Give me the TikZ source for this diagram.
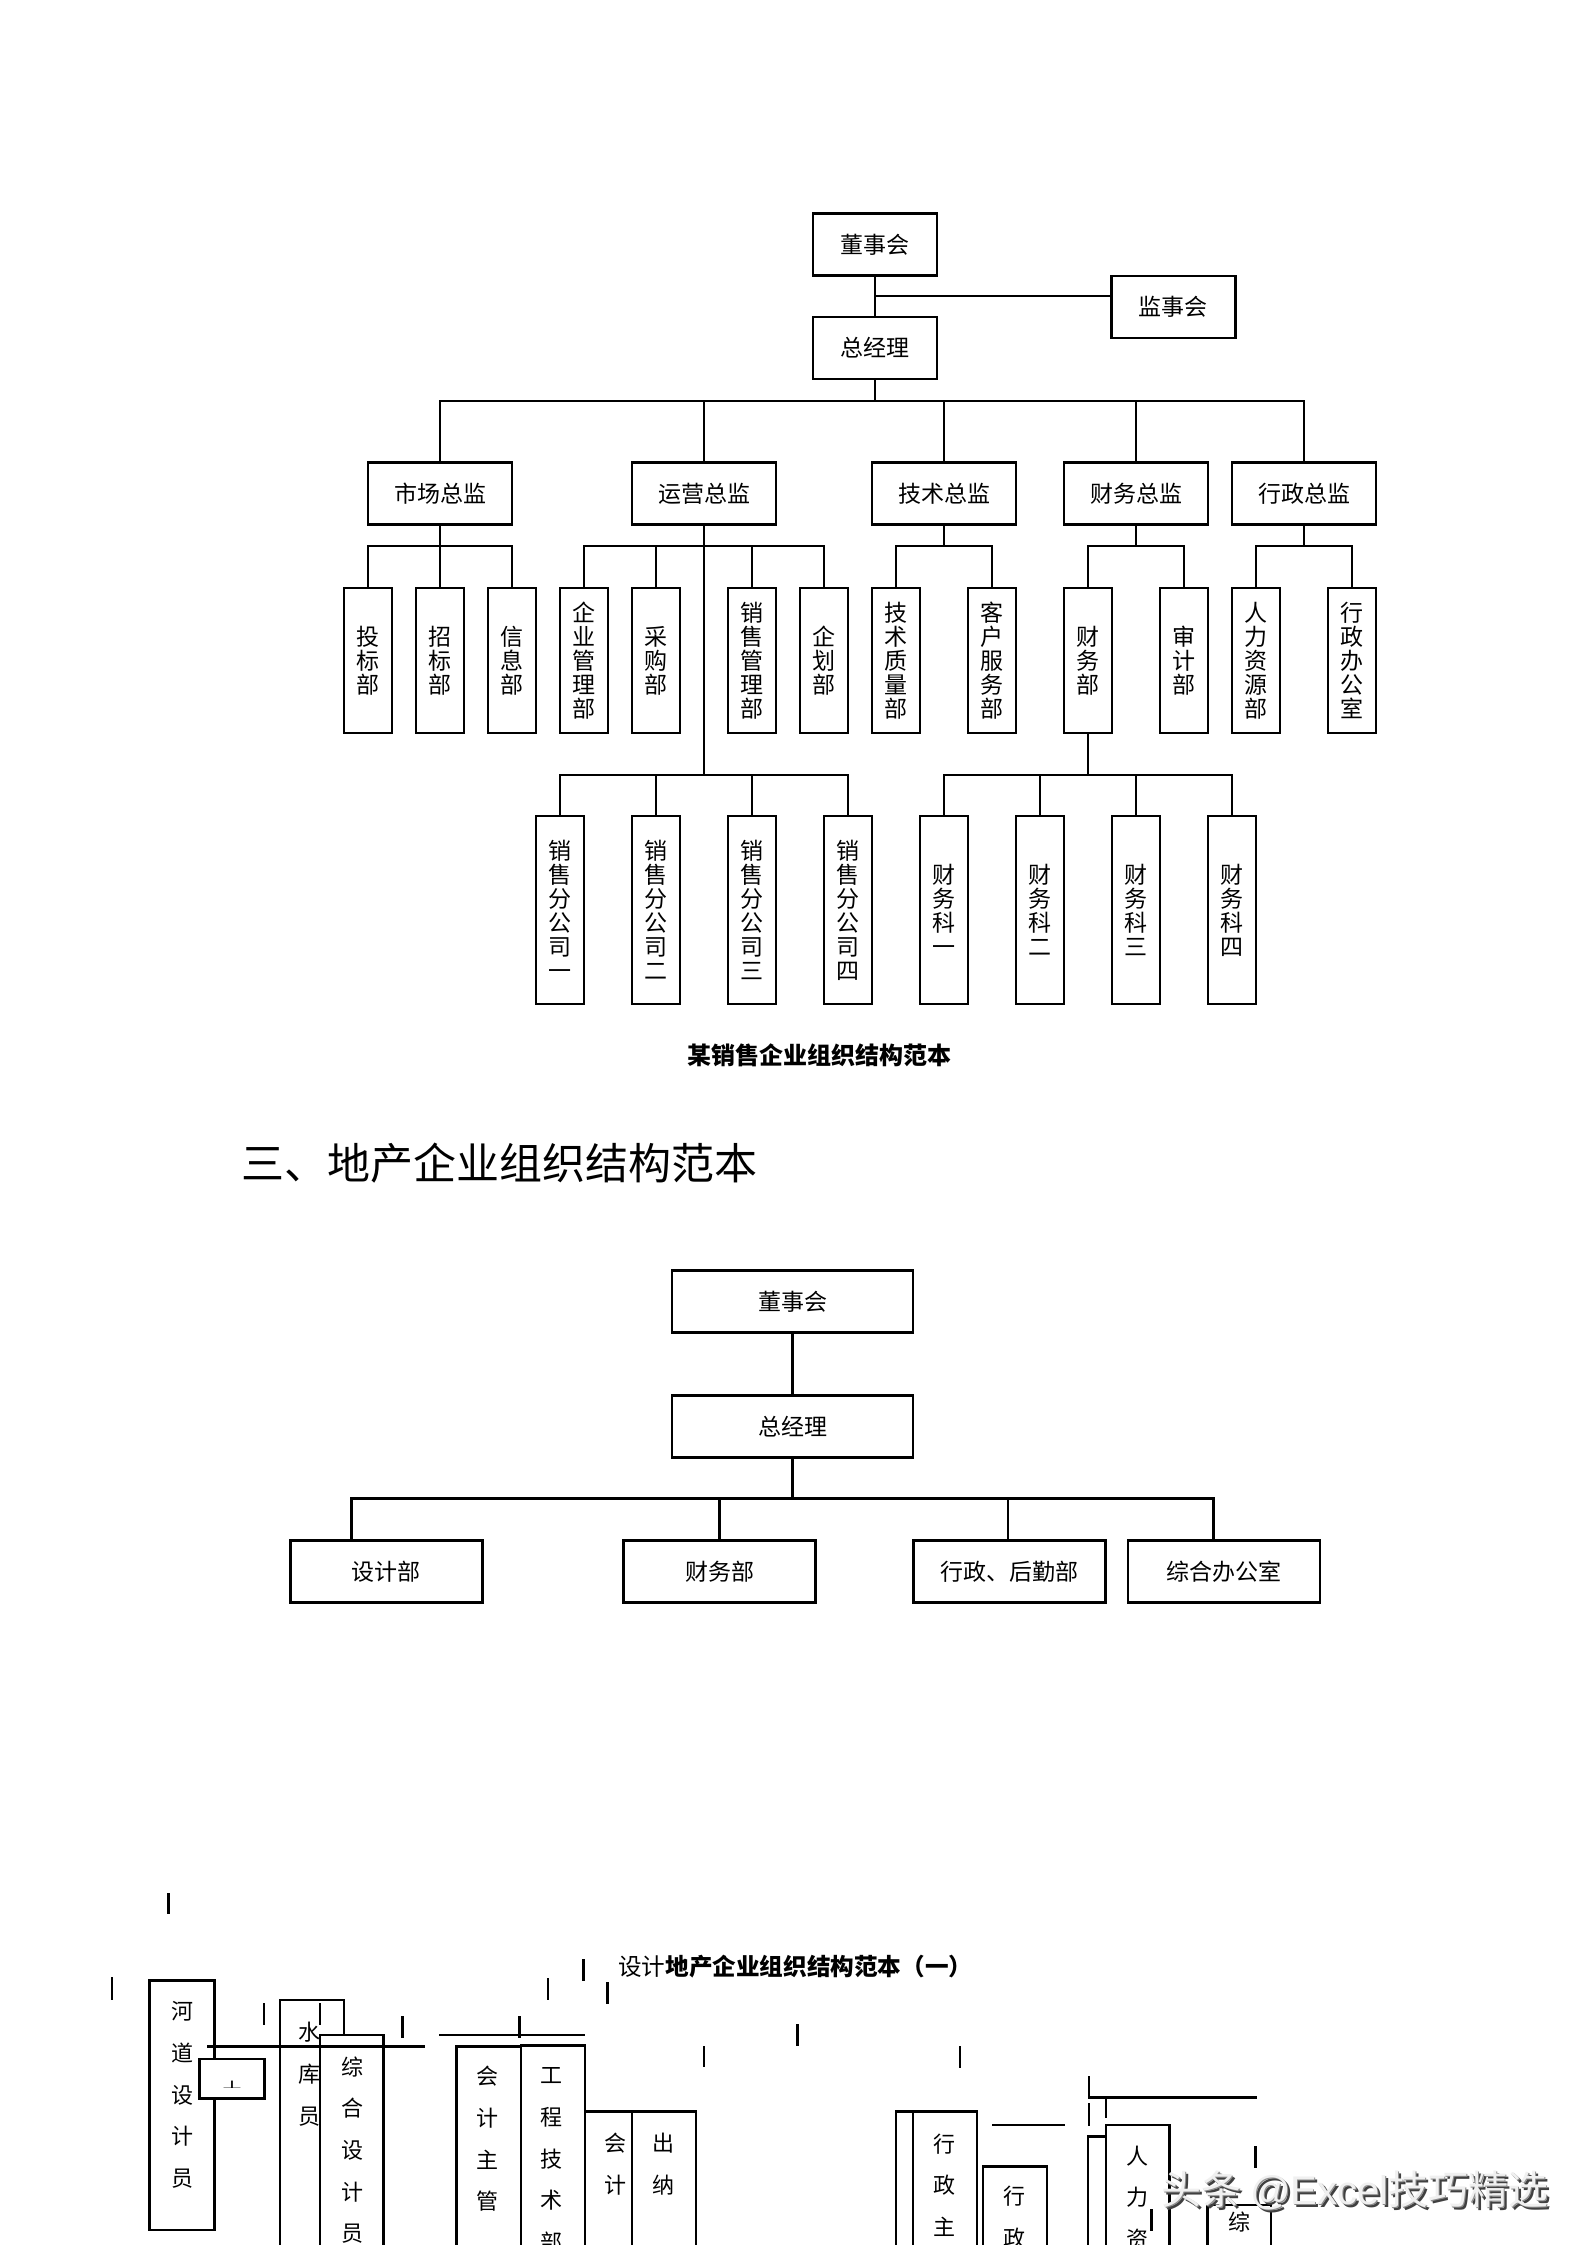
\documentclass[tikz,border=0pt]{standalone}
\usepackage{fontspec}
\setmainfont{Noto Sans CJK SC}
\newfontfamily\latinsans{Liberation Sans}
\usetikzlibrary{calc}

\tikzset{
  orgbox/.style={draw, inner sep=0pt, align=center},
  headbox/.style={orgbox, minimum width=62pt, minimum height=31pt},
  chiefbox/.style={orgbox, minimum width=72pt, minimum height=31pt},
  deptbox/.style={orgbox, minimum width=24pt, minimum height=72.5pt},
  unitbox/.style={orgbox, minimum width=24pt, minimum height=94pt},
  widebox/.style={orgbox, minimum width=120.5pt, minimum height=31pt},
  sectbox/.style={orgbox, minimum width=96pt, minimum height=31pt},
  colbox/.style={draw, fill=white},
  coltext/.style={inner sep=0pt, align=center, font=\fontsize{11}{20.85}\selectfont},
  markfont/.style={font=\fontsize{20}{20}\selectfont},
}
\newcommand{\marktext}{头条 {\latinsans @Excel}技巧精选}

\begin{document}
\begin{tikzpicture}[x=0.5pt, y=-0.5pt, line width=1.3pt, line cap=rect,
    font=\fontsize{11.5}{12}\selectfont]
    \fill[white] (0,0) rectangle (1587,2245);
    \clip (0,0) rectangle (1587,2245);

    % sales company chart
    \node[headbox] (dsh) at (874.8,244.5) {董事会};
    \node[headbox] (zjl) at (874.8,348) {总经理};
    \node[headbox] (jsh) at (1173.4,307) {监事会};
    \coordinate (jm) at (874.8,296);
    \draw (dsh) -- (zjl);
    \draw (jm) -- (jm -| jsh.west);

    \foreach \n/\x/\t in {scz/440/市场总监, yyz/704/运营总监, jsz/944/技术总监,
        cwz/1136/财务总监, xzz/1304/行政总监}
      \node[chiefbox] (\n) at (\x,493.3) {\t};

    \foreach \n/\x/\t in {tbb/368/{投\\标\\部}, zbb/440/{招\\标\\部}, xxb/512/{信\\息\\部},
        qgb/584/{企\\业\\管\\理\\部}, cgb/656/{采\\购\\部}, xgb/752/{销\\售\\管\\理\\部},
        qhb/824/{企\\划\\部}, jzb/896/{技\\术\\质\\量\\部}, kfb/992/{客\\户\\服\\务\\部},
        cwb/1088/{财\\务\\部}, sjb/1184/{审\\计\\部}, rlb/1256/{人\\力\\资\\源\\部},
        xbs/1352/{行\\政\\办\\公\\室}}
      \node[deptbox] (\n) at (\x,660.5) {\t};

    \foreach \n/\x/\t in {xs1/560/{销\\售\\分\\公\\司\\一}, xs2/656/{销\\售\\分\\公\\司\\二},
        xs3/752/{销\\售\\分\\公\\司\\三}, xs4/848/{销\\售\\分\\公\\司\\四},
        ck1/944/{财\\务\\科\\一}, ck2/1040/{财\\务\\科\\二},
        ck3/1136/{财\\务\\科\\三}, ck4/1232/{财\\务\\科\\四}}
      \node[unitbox] (\n) at (\x,910) {\t};

    \coordinate (b1) at (0,401);
    \coordinate (b2) at (0,546);
    \coordinate (b3) at (0,775);
    \draw (zjl.south) -- (zjl.south |- b1);
    \draw (scz.north |- b1) -- (xzz.north |- b1);
    \foreach \n in {scz,yyz,jsz,cwz,xzz}
      \draw (\n.north) -- (\n.north |- b1);
    \foreach \p/\a/\b in {scz/tbb/xxb, yyz/qgb/qhb, jsz/jzb/kfb, cwz/cwb/sjb, xzz/rlb/xbs} {
      \draw (\p.south) -- (\p.south |- b2);
      \draw (\a.north |- b2) -- (\b.north |- b2);
    }
    \foreach \n in {tbb,zbb,xxb,qgb,cgb,xgb,qhb,jzb,kfb,cwb,sjb,rlb,xbs}
      \draw (\n.north) -- (\n.north |- b2);
    \draw (yyz.south |- b2) -- (yyz.south |- b3);
    \draw (cwb.south) -- (cwb.south |- b3);
    \draw (xs1.north |- b3) -- (xs4.north |- b3);
    \draw (ck1.north |- b3) -- (ck4.north |- b3);
    \foreach \n in {xs1,xs2,xs3,xs4,ck1,ck2,ck3,ck4}
      \draw (\n.north) -- (\n.north |- b3);

    \node[font=\fontsize{12}{12}\selectfont\bfseries] (cap1) at (819,1055.7)
      {某销售企业组织结构范本};
    \node[anchor=west, inner sep=0pt, font=\fontsize{21.5}{22}\selectfont] (sec3)
      at (240.6,1163) {三、地产企业组织结构范本};

    % real estate chart
    \node[widebox] (dsh2) at (792.5,1301.7) {董事会};
    \node[widebox] (zjl2) at (792.5,1426.3) {总经理};
    \node[sectbox] (sjb2) at (386.3,1571.7) {设计部};
    \node[sectbox] (cwb2) at (719.7,1571.7) {财务部};
    \node[sectbox] (xzhq) at (1009.7,1571.7) {行政、后勤部};
    \node[sectbox] (zhbgs) at (1223.8,1571.7) {综合办公室};
    \coordinate (b4) at (0,1498.7);
    \coordinate (t1) at ($(sjb2.north)+(-35,0)$);
    \coordinate (t2) at (cwb2.north);
    \coordinate (t3) at ($(xzhq.north)+(-1.7,0)$);
    \coordinate (t4) at ($(zhbgs.north)+(-10.2,0)$);
    \draw (dsh2) -- (zjl2);
    \draw (zjl2.south) -- (zjl2.south |- b4);
    \draw (t1 |- b4) -- (t4 |- b4);
    \foreach \n in {t1,t2,t3,t4}
      \draw (\n) -- (\n |- b4);

    % broken chart at the bottom
    \node[anchor=west, inner sep=0pt, font=\fontsize{11.8}{12}\selectfont] (cap2)
      at (617,1966.7) {设计{\bfseries 地产企业组织结构范本（一）}};
    \foreach \x/\ya/\yb in {168.3/1894/1913, 112/1978/1999, 263.8/2004/2024,
        402.7/2017/2037, 519.6/2017/2037, 547.8/1979/1999, 583.5/1960/1980,
        607.6/1983/2003, 704/2047/2066, 797.5/2025/2045, 960/2047/2067}
      \draw (\x,\ya) -- (\x,\yb);

    \draw[colbox] (149.6,1980.7) rectangle (214.3,2230);
    \node[coltext] (hdsj) at (182,2095) {河\\道\\设\\计\\员};
    \draw[colbox] (199.6,2059) rectangle (264.3,2098.3);
    \begin{scope}
      \clip (201,2060) rectangle (263,2087);
      \node[inner sep=0pt, font=\fontsize{11}{11}\selectfont] (frag) at (232,2091) {土};
    \end{scope}
    \draw[colbox] (280,2000) rectangle (343.8,2260);
    \node[coltext] (skyt) at (309.8,2074) {水\\库\\员};
    \draw (320,2004) -- (320,2024);
    \draw[colbox] (320,2035) rectangle (383.5,2260);
    \node[coltext] (zhsj) at (352,2150) {综\\合\\设\\计\\员};
    \draw (208.5,2046.7) -- (423.7,2046.7);
    \draw (440,2035) -- (583.5,2035);

    \draw[colbox] (456.7,2046.7) rectangle (521,2260);
    \node[coltext] (kjzg) at (487.5,2139) {会\\计\\主\\管};
    \draw[colbox] (521,2045.7) rectangle (584.8,2260);
    \node[coltext] (gcjs) at (551.8,2160) {工\\程\\技\\术\\部};
    \draw[colbox] (584.8,2111.7) rectangle (632,2260);
    \node[coltext] (kj) at (615.6,2164) {会\\计};
    \draw[colbox] (632,2111.7) rectangle (696,2260);
    \node[coltext] (cn) at (663.4,2164) {出\\纳};

    \draw[colbox] (896,2111.7) rectangle (976.9,2260);
    \draw (913,2111.7) -- (913,2260);
    \node[coltext] (xzzg) at (944.3,2185) {行\\政\\主};
    \draw[colbox] (983,2166.7) rectangle (1047,2260);
    \node[coltext] (xz) at (1014.4,2217.4) {行\\政};
    \draw (993.4,2125) -- (1064,2125);
    \draw (1088.9,2077) -- (1088.9,2098);
    \draw (1088.9,2104) -- (1088.9,2125);
    \draw (1088.9,2097.7) -- (1255.4,2097.7);
    \draw (1105.9,2098) -- (1105.9,2117);

    \draw[colbox] (1088,2136.7) rectangle (1140,2260);
    \draw[colbox] (1106,2125) rectangle (1169.7,2260);
    \node[coltext] (rlzy) at (1137,2197.5) {人\\力\\资};
    \draw (1151.4,2210) -- (1151.4,2230);
    \draw[colbox] (1207.7,2205) rectangle (1271,2260);
    \node[coltext] (zong) at (1239.8,2222) {综};
    \draw (1255.4,2147) -- (1255.4,2167);

    % watermark
    \node[markfont, text=black!75] (wm0) at (1358,2193) {\marktext};
    \node[markfont, text=black!45] (wm1) at (1356,2191) {\marktext};
    \node[markfont, text=white!94!black] (wm) at (1355,2190) {\marktext};
  \end{tikzpicture}
\end{document}
